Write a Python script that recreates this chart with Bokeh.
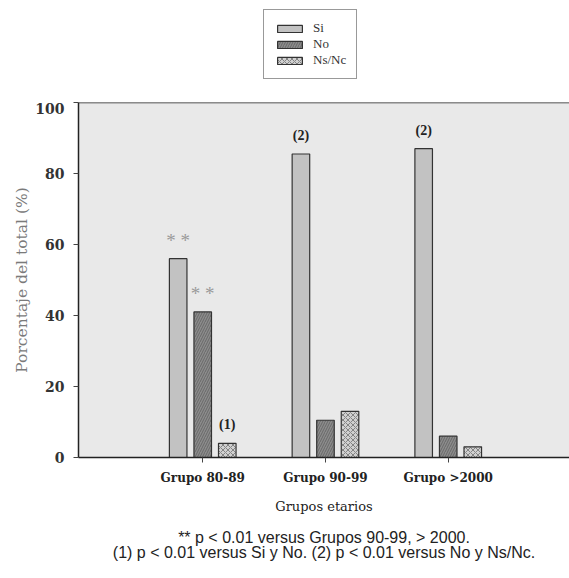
from bokeh.plotting import figure
from bokeh.layouts import column
from bokeh.models import Range1d, FixedTicker, Span, Legend, LegendItem, ColumnDataSource
from bokeh.transform import dodge
from bokeh.core.properties import value
from bokeh.embed import file_html
from bokeh.resources import INLINE

# ---- data ----
groups = ["Grupo 80-89", "Grupo 90-99", "Grupo >2000"]
group_pos = [1, 2, 3]
series_names = ["Si", "No", "Ns/Nc"]
si = [56, 85.5, 87]
no = [41, 10.5, 6]
nsnc = [4, 13, 3]
si_marks = ["**", "(2)", "(2)"]
no_marks = ["**", "", ""]
nsnc_marks = ["(1)", "", ""]
y_ticks = [0, 20, 40, 60, 80, 100]
x_title = "Grupos etarios"
y_title = "Porcentaje del total (%)"
footnotes = ["** p < 0.01 versus Grupos 90-99, > 2000.",
             "(1) p < 0.01 versus Si y No. (2) p < 0.01 versus No y Ns/Nc."]

SERIF = "Liberation Serif"
WSERIF = "DejaVu Serif"
SANS = "Liberation Sans"

X_RANGE = (-0.012, 3.988)

styles = [
    dict(col="si", off=-0.2, fill="#c2c2c2", hatch=None),
    dict(col="no", off=0.0, fill="#8c8c8c", hatch="right_diagonal_line"),
    dict(col="nsnc", off=0.2, fill="#d0d0d0", hatch="diagonal_cross"),
]
bw = 0.143


def bar_style(st):
    kw = dict(fill_color=st["fill"], line_color="#333333", line_width=1.2)
    if st["hatch"]:
        kw.update(hatch_pattern=st["hatch"], hatch_color="#505050", hatch_alpha=0.6,
                  hatch_scale=5, hatch_weight=1)
    return kw


def bare(fig):
    fig.xgrid.visible = False
    fig.ygrid.visible = False
    fig.outline_line_color = None
    fig.background_fill_color = "white"
    fig.border_fill_color = "white"


src = ColumnDataSource(dict(x=group_pos, si=si, no=no, nsnc=nsnc,
                            si_m=si_marks, no_m=no_marks, nsnc_m=nsnc_marks))

# ---- legend strip (above the chart); its bars lie below its visible y range ----
leg_fig = figure(width=569, height=102, x_range=Range1d(*X_RANGE), y_range=Range1d(100, 101),
                 min_border=0, x_axis_location=None, y_axis_location=None, title_location=None,
                 output_backend="svg", toolbar_location=None, tools="")
bare(leg_fig)
leg_renderers = [leg_fig.vbar(x=dodge("x", st["off"]), top=st["col"], width=bw, source=src,
                              **bar_style(st)) for st in styles]
legend = Legend(items=[LegendItem(label=n, renderers=[r]) for n, r in zip(series_names, leg_renderers)],
                location=(185, 23), padding=10, spacing=0, glyph_width=31, glyph_height=9,
                label_height=14, label_standoff=8, margin=0,
                label_text_font=SERIF, label_text_font_size="13px", label_text_color="#333333",
                border_line_color="#333333", border_line_width=1, background_fill_color="white")
leg_fig.add_layout(legend)

# ---- main chart ----
p = figure(frame_width=491, frame_height=355,
           min_border_left=78, min_border_right=0, min_border_top=0, min_border_bottom=63,
           x_range=Range1d(*X_RANGE), y_range=Range1d(0, 100), title_location=None,
           output_backend="svg", toolbar_location=None, tools="")
bare(p)
p.background_fill_color = "#e9e9e9"

for st in styles:
    p.vbar(x=dodge("x", st["off"]), top=st["col"], width=bw, bottom=0, source=src, **bar_style(st))

# significance marks above bars
for st, mcol in zip(styles, ["si_m", "no_m", "nsnc_m"]):
    for xv, yv, m in zip(src.data["x"], src.data[st["col"]], src.data[mcol]):
        if m == "**":
            p.text(x=[xv + st["off"]], y=[yv], text=["* *"], text_align="center", text_baseline="bottom",
                   y_offset=-8, text_font=value(SERIF), text_font_size="19px", text_color="#9a9a9a")
        elif m:
            p.text(x=[xv + st["off"]], y=[yv], text=[m], text_align="center", text_baseline="bottom",
                   y_offset=-11, text_font=value(SERIF), text_font_size="14px", text_font_style="bold",
                   text_color="#222222")

# top frame line
p.add_layout(Span(location=100, dimension="width", line_color="#222222", line_width=1.5))

# axes
p.yaxis.ticker = FixedTicker(ticks=y_ticks)
p.xaxis.ticker = FixedTicker(ticks=group_pos)
p.xaxis.major_label_overrides = {g: lab for g, lab in zip(group_pos, groups)}
for ax in (p.xaxis, p.yaxis):
    ax.axis_line_color = "#222222"
    ax.axis_line_width = 1.5
    ax.major_tick_line_color = "#444444"
    ax.major_tick_in = 0
    ax.major_tick_out = 5
    ax.minor_tick_line_color = None
    ax.major_label_text_font = WSERIF
    ax.major_label_text_font_style = "bold"
    ax.axis_label_text_font = WSERIF
    ax.axis_label_text_font_style = "normal"
p.yaxis.major_label_text_font_size = "14px"
p.yaxis.major_label_text_color = "#333333"
p.yaxis.major_label_standoff = 9
p.yaxis.axis_label = y_title
p.yaxis.axis_label_text_font_size = "15.5px"
p.yaxis.axis_label_text_color = "#7a7a7a"
p.yaxis.axis_label_standoff = 1
p.xaxis.major_label_text_font_size = "12px"
p.xaxis.major_label_text_color = "#222222"
p.xaxis.major_label_standoff = 8
p.xaxis.axis_label = x_title
p.xaxis.axis_label_text_font_size = "13px"
p.xaxis.axis_label_text_color = "#222222"
p.xaxis.axis_label_standoff = 11

# ---- footnotes strip (below the chart) ----
notes = figure(frame_width=491, height=58, min_border_left=78, min_border_right=0,
               min_border_top=0, min_border_bottom=0,
               x_range=Range1d(*X_RANGE), y_range=Range1d(0, 1),
               x_axis_location=None, y_axis_location=None, title_location=None,
               output_backend="svg", toolbar_location=None, tools="")
bare(notes)
notes.text(x=[sum(X_RANGE) / 2] * len(footnotes), y=[0.71, 0.45], text=footnotes,
           text_align="center", text_baseline="middle", text_font=value(SANS),
           text_font_size="16px", text_color="#222222")

layout = column(leg_fig, p, notes, spacing=0)
open("out.html", "w").write(file_html(layout, INLINE))
